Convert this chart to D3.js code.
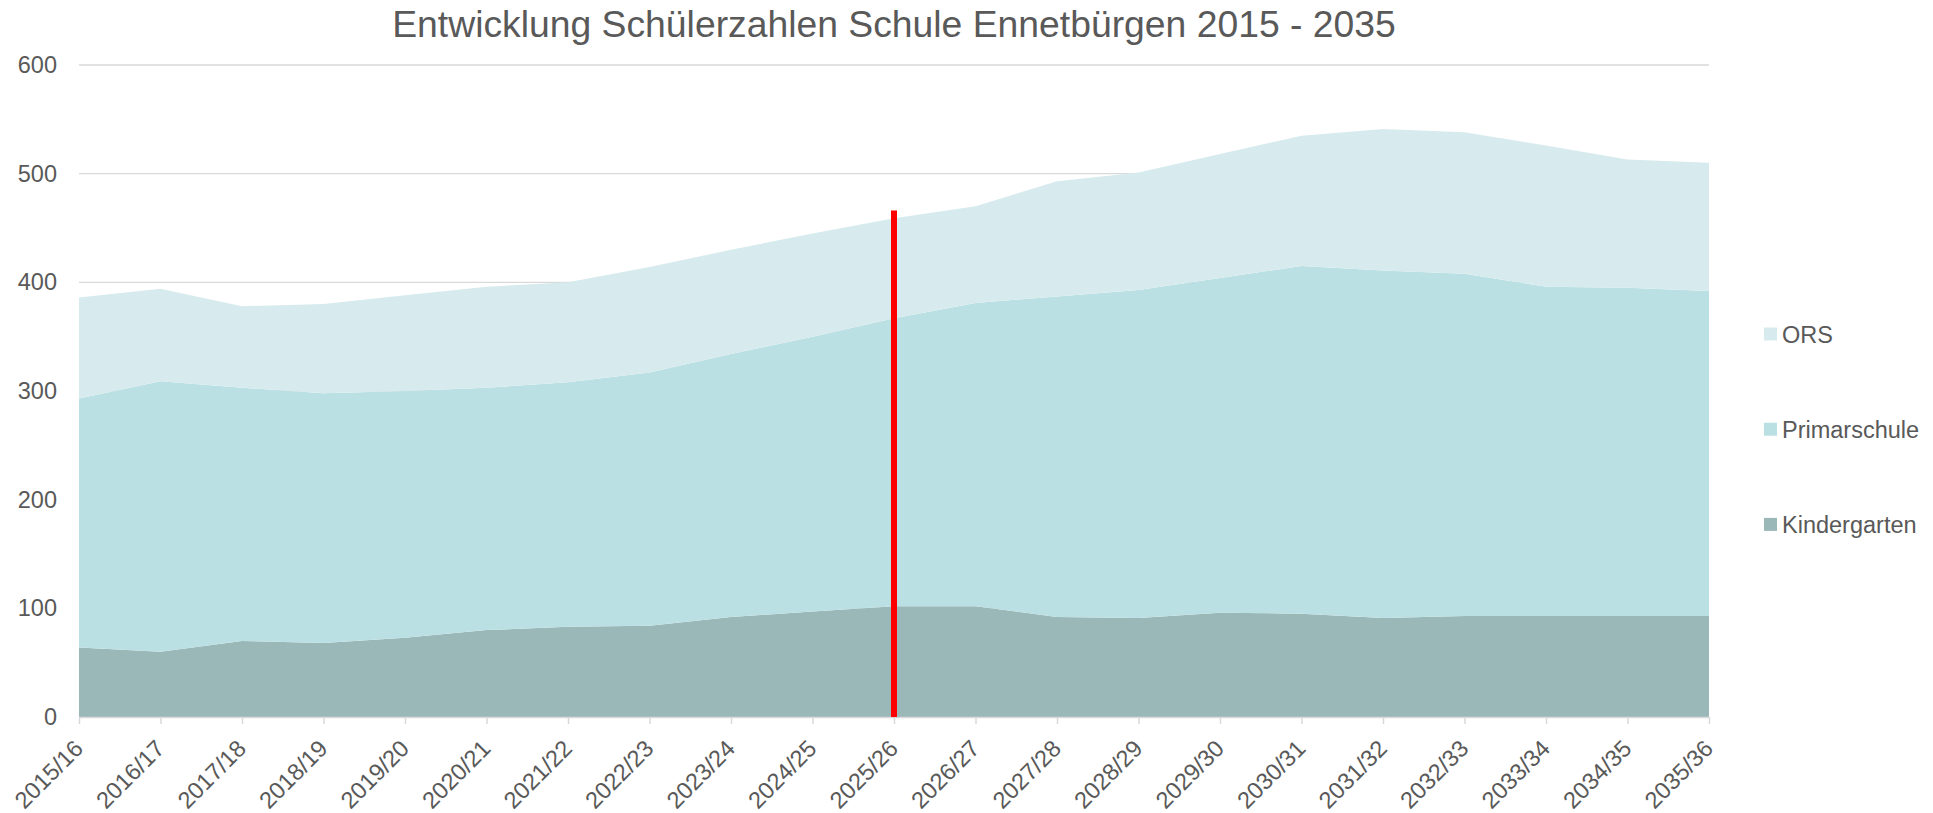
<!DOCTYPE html>
<html>
<head>
<meta charset="utf-8">
<script src="https://cdn.jsdelivr.net/npm/d3@7"></script>
<style>
  html, body { margin: 0; padding: 0; background: #ffffff; }
  svg { display: block; }
  text { font-family: "Liberation Sans", Arial, sans-serif; fill: #595959; }
</style>
</head>
<body>
<svg id="chart" width="1933" height="813"></svg>
<script>
const title = "Entwicklung Schülerzahlen Schule Ennetbürgen 2015 - 2035";
const years = ["2015/16","2016/17","2017/18","2018/19","2019/20","2020/21","2021/22","2022/23","2023/24","2024/25","2025/26","2026/27","2027/28","2028/29","2029/30","2030/31","2031/32","2032/33","2033/34","2034/35","2035/36"];
const kindergarten = [64, 60, 70, 68, 73, 80, 83, 84, 92, 97, 102, 102, 92, 91, 96, 95, 91, 93, 93, 93, 93];
const primarschule = [229, 249, 233, 230, 227, 223, 225, 233, 242, 253, 265, 279, 295, 302, 308, 320, 320, 315, 303, 302, 299];
const ors = [93, 85, 75, 82, 88, 93, 92, 97, 96, 95, 92, 89, 106, 108, 114, 120, 130, 130, 130, 118, 118];
const seriesNames = ["Kindergarten", "Primarschule", "ORS"];
const seriesColors = ["#9bb8b9", "#bbe0e3", "#d7ebee"];
const yTicks = [0, 100, 200, 300, 400, 500, 600];
const markerYear = "2025/26";
const markerValue = 466;

(function () {
const svg = d3.select("#chart");
const mLeft = 79, mRight = 1709, mTop = 65, mBottom = 717;

const x = d3.scalePoint().domain(years).range([mLeft, mRight]);
const y = d3.scaleLinear().domain([0, 600]).range([mBottom, mTop]);

const rows = years.map((yr, i) => ({ year: yr, Kindergarten: kindergarten[i], Primarschule: primarschule[i], ORS: ors[i] }));
const stacked = d3.stack().keys(seriesNames)(rows);

// gridlines
svg.append("g").selectAll("line").data(yTicks.filter(t => t > 0)).join("line")
  .attr("x1", mLeft).attr("x2", mRight)
  .attr("y1", d => y(d)).attr("y2", d => y(d))
  .attr("stroke", "#d9d9d9").attr("stroke-width", 1.3);

// areas
const area = d3.area().x(d => x(d.data.year)).y0(d => y(d[0])).y1(d => y(d[1]));
svg.append("g").selectAll("path").data(stacked).join("path")
  .attr("d", area)
  .attr("fill", (d, i) => seriesColors[i]);

// x axis
const xAxis = d3.axisBottom(x).tickSize(7).tickPadding(0);
const gx = svg.append("g").attr("transform", `translate(0,${mBottom})`).call(xAxis);
gx.select(".domain").attr("stroke", "#d9d9d9").attr("stroke-width", 1.5).attr("d", `M${mLeft},0.5H${mRight}`);
gx.selectAll(".tick line").attr("stroke", "#d9d9d9").attr("stroke-width", 1.5);
gx.selectAll(".tick text")
  .attr("font-size", 23.5)
  .attr("fill", "#595959")
  .attr("text-anchor", "end")
  .attr("dy", null)
  .attr("y", 0)
  .attr("transform", "translate(5,33) rotate(-45)");

// y axis labels
const yAxis = d3.axisLeft(y).tickValues(yTicks).tickSize(0).tickPadding(22);
const gy = svg.append("g").attr("transform", `translate(${mLeft},0)`).call(yAxis);
gy.select(".domain").remove();
gy.selectAll(".tick text").attr("font-size", 23.5).attr("fill", "#595959");

// red marker line
svg.append("line")
  .attr("x1", x(markerYear)).attr("x2", x(markerYear))
  .attr("y1", y(0)).attr("y2", y(markerValue))
  .attr("stroke", "#ff0000").attr("stroke-width", 6);

// title
svg.append("text")
  .attr("x", (mLeft + mRight) / 2).attr("y", 37)
  .attr("text-anchor", "middle")
  .attr("font-size", 37.3)
  .attr("fill", "#595959")
  .text(title);

// legend
const legendItems = ["ORS", "Primarschule", "Kindergarten"];
const legendColors = { ORS: seriesColors[2], Primarschule: seriesColors[1], Kindergarten: seriesColors[0] };
const lg = svg.append("g").selectAll("g").data(legendItems).join("g")
  .attr("transform", (d, i) => `translate(1764,${334 + i * 95.2})`);
lg.append("rect").attr("x", 0).attr("y", -6.5).attr("width", 13).attr("height", 13)
  .attr("fill", d => legendColors[d]);
lg.append("text").attr("x", 18).attr("y", 8.5).attr("font-size", 23.5).attr("fill", "#595959").text(d => d);
})();
</script>
</body>
</html>
